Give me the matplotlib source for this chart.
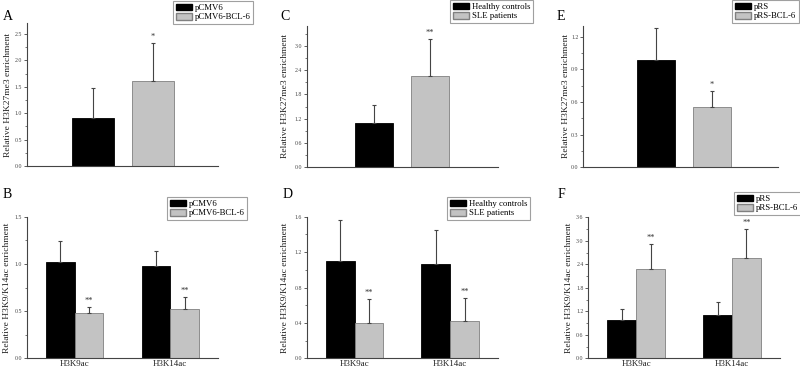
import matplotlib
matplotlib.use("Agg")
import matplotlib.pyplot as plt
import matplotlib.patches as mpatches
from matplotlib.ticker import MultipleLocator, FormatStrFormatter

plt.rcParams['font.family'] = ['Liberation Serif', 'DejaVu Serif']

# ---- data ----
histones = ['H3K9ac', 'H3K14ac']

# A: H3K27me3, overexpression
a_labels = ['pCMV6', 'pCMV6-BCL-6']
a_vals = [0.90, 1.61]
a_errs = [0.58, 0.71]
a_sig = ['', '*']

# B: H3K9/K14ac, overexpression
b_ctrl = [1.015, 0.98]
b_ctrl_err = [0.225, 0.155]
b_bcl = [0.476, 0.52]
b_bcl_err = [0.065, 0.13]
b_sig = ['**', '**']

# C: H3K27me3, patients
c_labels = ['Healthy controls', 'SLE patients']
c_vals = [1.09, 2.25]
c_errs = [0.46, 0.91]
c_sig = ['', '**']

# D: H3K9/K14ac, patients
d_ctrl = [1.10, 1.07]
d_ctrl_err = [0.46, 0.38]
d_sle = [0.40, 0.42]
d_sle_err = [0.27, 0.26]
d_sig = ['**', '**']

# E: H3K27me3, knockdown
e_labels = ['pRS', 'pRS-BCL-6']
e_vals = [0.985, 0.557]
e_errs = [0.295, 0.143]
e_sig = ['', '*']

# F: H3K9/K14ac, knockdown
f_ctrl = [0.98, 1.10]
f_ctrl_err = [0.27, 0.33]
f_bcl = [2.27, 2.57]
f_bcl_err = [0.64, 0.72]
f_sig = ['**', '**']

W, H = 800, 370
BLACK = 'black'
GREY = '#c3c3c3'
GREY_EDGE = '#808080'
AXC = '#444444'

fig = plt.figure(figsize=(W / 100, H / 100), dpi=100)


def make_ax(x0, ybot, x1, ytop):
    # pixel box -> figure fraction
    return fig.add_axes([x0 / W, 1 - ybot / H, (x1 - x0) / W, (ybot - ytop) / H])


def style(ax, ymax, major, label, label_px, x0, x1):
    ax.set_ylim(0, ymax)
    ax.yaxis.set_major_locator(MultipleLocator(major))
    ax.yaxis.set_minor_locator(MultipleLocator(major / 2))
    ax.yaxis.set_major_formatter(FormatStrFormatter('%.1f'))
    for s in ['top', 'right']:
        ax.spines[s].set_visible(False)
    for s in ['left', 'bottom']:
        ax.spines[s].set_color(AXC)
        ax.spines[s].set_linewidth(0.8)
    ax.tick_params(axis='y', which='major', length=2.2, width=0.6, colors=AXC,
                   labelsize=4.2, pad=1.2)
    ax.tick_params(axis='y', which='minor', length=1.3, width=0.5, colors=AXC)
    ax.tick_params(axis='x', length=0, labelsize=6.5, pad=1, labelcolor='#222222')
    ax.set_ylabel(label, fontsize=6.8, color='#222222')
    # label_px is the pixel x of the label's right edge
    ax.yaxis.set_label_coords((label_px - x0) / (x1 - x0), 0.5)


def legend(ax, labels, x0, y0):
    handles = [mpatches.Patch(facecolor=BLACK, edgecolor=BLACK),
               mpatches.Patch(facecolor=GREY, edgecolor=GREY_EDGE)]
    leg = ax.legend(handles, labels, loc='upper left', bbox_to_anchor=(x0 / W, 1 - y0 / H),
                    bbox_transform=fig.transFigure, fontsize=6.3, frameon=True, fancybox=False,
                    handlelength=1.9, handleheight=0.8, handletextpad=0.3, labelspacing=0.1,
                    borderpad=0.3, borderaxespad=0)
    leg.get_frame().set_edgecolor('#888888')
    leg.get_frame().set_linewidth(0.8)


def stars(ax, xs, tops, sig):
    for x, t, s in zip(xs, tops, sig):
        if s:
            ax.annotate(s, (x, t), xytext=(0, 1.5), textcoords='offset points',
                        ha='center', va='bottom', fontsize=6, color='#333333')


def err(ax, xs, vals, errs):
    ax.errorbar(xs, vals, yerr=[[0] * len(vals), errs], fmt='none', ecolor='#444444',
                elinewidth=0.8, capsize=1.2, capthick=0.8)


def single(ax, vals, errs, sig, xlim):
    xs = [1, 2]
    ax.bar(xs[0], vals[0], 0.69, color=BLACK, edgecolor=BLACK, linewidth=0.6)
    ax.bar(xs[1], vals[1], 0.69, color=GREY, edgecolor=GREY_EDGE, linewidth=0.6)
    err(ax, xs, vals, errs)
    ax.set_xticks([])
    ax.set_xlim(*xlim)
    stars(ax, xs, [v + e for v, e in zip(vals, errs)], sig)


def grouped(ax, ctrl, ctrl_err, trt, trt_err, sig):
    w = 0.3
    xc = [i - w / 2 for i in range(len(histones))]
    xt = [i + w / 2 for i in range(len(histones))]
    ax.bar(xc, ctrl, w, color=BLACK, edgecolor=BLACK, linewidth=0.6)
    ax.bar(xt, trt, w, color=GREY, edgecolor=GREY_EDGE, linewidth=0.6)
    err(ax, xc, ctrl, ctrl_err)
    err(ax, xt, trt, trt_err)
    ax.set_xticks(range(len(histones)))
    ax.set_xticklabels(histones)
    ax.set_xlim(-0.5, 1.5)
    stars(ax, xt, [v + e for v, e in zip(trt, trt_err)], sig)


lab27 = 'Relative H3K27me3 enrichment'
labac = 'Relative H3K9/K14ac enrichment'

# panel A
axA = make_ax(27, 166, 218, 23.4)
single(axA, a_vals, a_errs, a_sig, (-0.083, 3.07))
style(axA, 2.7, 0.5, lab27, 12, 27, 218)
legend(axA, a_labels, 173, 1)

# panel B
axB = make_ax(27, 358.3, 218, 216.7)
grouped(axB, b_ctrl, b_ctrl_err, b_bcl, b_bcl_err, b_sig)
style(axB, 1.5, 0.5, labac, 11.5, 27, 218)
legend(axB, a_labels, 167, 197)

# panel C
axC = make_ax(306.7, 167.3, 498, 25.5)
single(axC, c_vals, c_errs, c_sig, (-0.2, 3.21))
style(axC, 3.5, 0.6, lab27, 289, 306.7, 498)
legend(axC, c_labels, 450, 0)

# panel D
axD = make_ax(306.7, 358.3, 498, 216.7)
grouped(axD, d_ctrl, d_ctrl_err, d_sle, d_sle_err, d_sig)
style(axD, 1.6, 0.4, labac, 289, 306.7, 498)
legend(axD, c_labels, 447, 197)

# panel E
axE = make_ax(583.3, 167.3, 778, 25.7)
single(axE, e_vals, e_errs, e_sig, (-0.3, 3.18))
style(axE, 1.3, 0.3, lab27, 569.5, 583.3, 778)
legend(axE, e_labels, 732, 0)

# panel F
axF = make_ax(588.3, 358.3, 780, 217.3)
grouped(axF, f_ctrl, f_ctrl_err, f_bcl, f_bcl_err, f_sig)
style(axF, 3.6, 0.6, labac, 573, 588.3, 780)
legend(axF, e_labels, 734, 192)

# panel letters
for letter, x, y in [('A', 3, 20), ('B', 3, 198), ('C', 280, 20),
                     ('D', 283, 198), ('E', 557, 20), ('F', 558, 198)]:
    fig.text(x / W, 1 - y / H, letter, fontsize=10, ha='left', va='baseline')

fig.savefig('out.png', dpi=100)
